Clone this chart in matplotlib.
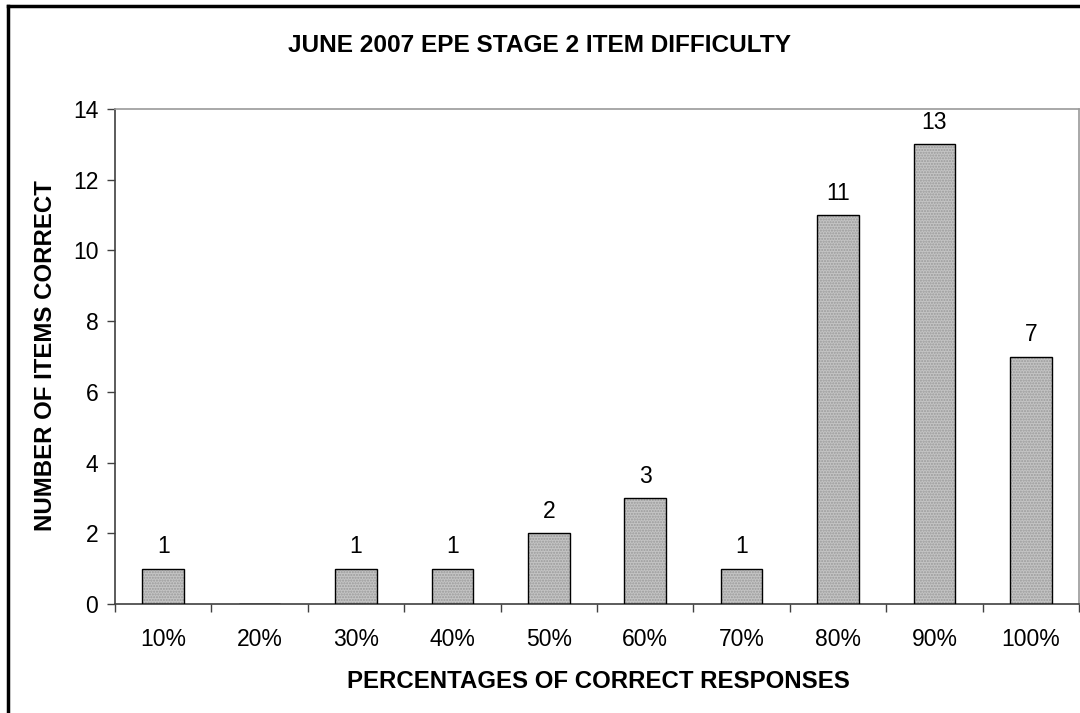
import matplotlib
matplotlib.use("Agg")
import matplotlib.pyplot as plt
from matplotlib.lines import Line2D

plt.rcParams['font.family'] = ['Liberation Sans', 'DejaVu Sans']

# data
categories = ["10%", "20%", "30%", "40%", "50%", "60%", "70%", "80%", "90%", "100%"]
counts = [1, 0, 1, 1, 2, 3, 1, 11, 13, 7]

W, H = 1080, 713
fig = plt.figure(figsize=(W / 100, H / 100), dpi=100)
ax = fig.add_axes([115 / W, 1 - 604 / H, (1079 - 115) / W, (604 - 109) / H])

x = list(range(len(categories)))
# stippled grey fill, then black outline on top
ax.bar(x, counts, width=0.43, color="#c4c4c4", hatch="......", edgecolor="#9a9a9a",
       linewidth=0, zorder=2)
ax.bar(x, counts, width=0.43, fill=False, edgecolor="black", linewidth=1.0, zorder=3)

for xi, c in zip(x, counts):
    if c > 0:
        ax.annotate(str(c), (xi, c), xytext=(0, 11), textcoords="offset points",
                    ha="center", va="baseline", fontsize=16.5)

ax.set_xlim(-0.5, len(categories) - 0.5)
ax.set_ylim(0, 14)
ax.set_yticks(range(0, 15, 2))
ax.set_xticks(x)
ax.set_xticklabels(categories)
ax.set_xticks([i - 0.5 for i in range(len(categories) + 1)], minor=True)
ax.tick_params(axis="x", which="major", length=0, pad=17, labelsize=16.5)
ax.tick_params(axis="x", which="minor", length=6, width=1, color="#404040", direction="out")
ax.tick_params(axis="y", length=6, width=1, color="#404040", direction="out", labelsize=16.5, pad=6)

ax.spines["left"].set_color("#404040")
ax.spines["bottom"].set_color("#404040")
ax.spines["top"].set_color("#9a9a9a")
ax.spines["right"].set_color("#9a9a9a")
for s in ax.spines.values():
    s.set_linewidth(1.2)

fig.text(598 / W, 1 - 681 / H, "PERCENTAGES OF CORRECT RESPONSES",
         ha="center", va="center", fontsize=17.3, fontweight="bold")
fig.text(46 / W, 1 - 356 / H, "NUMBER OF ITEMS CORRECT", rotation=90,
         ha="center", va="center", fontsize=17.3, fontweight="bold")
fig.text(540 / W, 1 - 45 / H, "JUNE 2007 EPE STAGE 2 ITEM DIFFICULTY",
         ha="center", va="center", fontsize=17.6, fontweight="bold")

# outer chart border (left and top visible)
fig.add_artist(Line2D([8 / W, 8 / W], [0, 1 - 6 / H], color="black", linewidth=2.5))
fig.add_artist(Line2D([8 / W, 1], [1 - 6 / H, 1 - 6 / H], color="black", linewidth=2.5))

fig.savefig("out.png", dpi=100)
